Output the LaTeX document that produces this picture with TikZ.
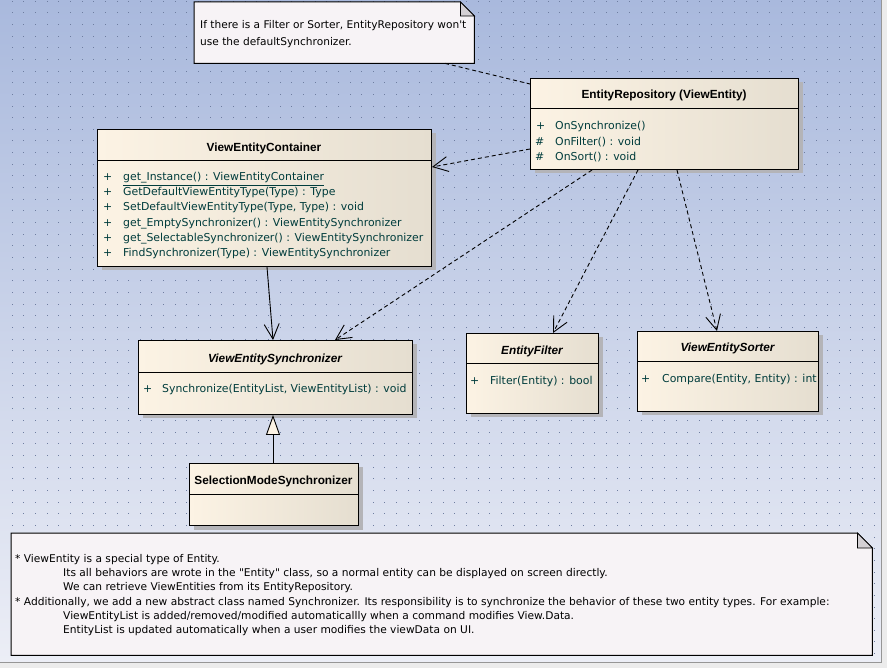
\documentclass[tikz,border=0pt]{standalone}
\usepackage{fontspec}
\setmainfont{Liberation Sans}
\newfontfamily\dejavu{DejaVu Sans}
\usetikzlibrary{arrows.meta,shadows,calc}
\definecolor{bgtop}{RGB}{169,185,221}
\definecolor{bgbot}{RGB}{236,238,246}
\definecolor{dotc}{RGB}{110,125,160}
\definecolor{creamL}{RGB}{252,243,228}
\definecolor{creamR}{RGB}{229,222,208}
\definecolor{shadowc}{RGB}{180,180,184}
\definecolor{notefill}{RGB}{247,243,246}
\definecolor{foldc}{RGB}{212,208,212}
\definecolor{membc}{RGB}{0,60,60}
\definecolor{framec}{RGB}{236,236,236}
\definecolor{framel}{RGB}{150,150,150}
\begin{document}
\begin{tikzpicture}[x=1pt,y=-1pt,
  classbox/.style={draw=black, line width=1pt, left color=creamL, right color=creamR, inner sep=0pt, anchor=north west,
    general shadow={fill=shadowc, shadow xshift=4pt, shadow yshift=-4pt}},
  notebox/.style={inner sep=0pt, anchor=north west},
  noteline/.style={draw=black, line width=1pt, fill=notefill},
  foldline/.style={draw=black, line width=0.8pt, fill=foldc},
  memb/.style={anchor=base west, inner sep=0pt, text=membc, font=\dejavu\fontsize{10.9}{13}\selectfont},
  ttl/.style={anchor=base, inner sep=0pt, font=\bfseries\fontsize{11.8}{13}\selectfont},
  ittl/.style={anchor=base, inner sep=0pt, font=\bfseries\itshape\fontsize{11.8}{13}\selectfont},
  notetxt/.style={anchor=base west, inner sep=0pt, font=\dejavu\fontsize{10.65}{13}\selectfont},
  sepline/.style={draw=black, line width=1pt},
  dep/.style={draw=black, line width=0.9pt, dash pattern=on 4pt off 3pt, -{Straight Barb[length=15pt,width=15pt]}},
  assoc/.style={draw=black, line width=0.9pt, -{Straight Barb[length=15pt,width=15pt]}},
  notelink/.style={draw=black, line width=0.9pt, dash pattern=on 4pt off 3pt},
  gen/.style={draw=black, line width=0.9pt, -{Triangle[length=20pt,width=14pt,fill=creamL]}}
]
\useasboundingbox (0,0) rectangle (887,668);
% frame and background
\fill[framec] (0,0) rectangle (887,668);
\shade[top color=bgtop, bottom color=bgbot] (0,0) rectangle (881,662);
\draw[framel, line width=1pt] (881.5,0) -- (881.5,662.5) -- (0,662.5);
\foreach \i in {1,...,75}{
  \foreach \j in {0,...,56}{
    \fill[dotc] (\i*11.65,\j*11.65+0.7) rectangle +(1,1);
  }
}

% ---------- classes ----------
\node[classbox, minimum width=268pt, minimum height=91pt] (ER) at (530,78) {};
\draw[sepline] (530,109) -- (798,109);
\node[ttl] (ERt) at (664,99) {EntityRepository (ViewEntity)};
\node[memb] (ERs1) at (536,130) {+};
\node[memb] (ERm1) at (555,130) {OnSynchronize()};
\node[memb] (ERs2) at (535,146) {\#};
\node[memb] (ERm2) at (555,146) {OnFilter() : void};
\node[memb] (ERs3) at (535,161) {\#};
\node[memb] (ERm3) at (555,161) {OnSort() : void};

\node[classbox, minimum width=334pt, minimum height=137pt] (VEC) at (97,129) {};
\draw[sepline] (97,161) -- (431,161);
\node[ttl] (VECt) at (264,152) {ViewEntityContainer};
\node[memb] (VECs1) at (103,181) {+};
\node[memb] (VECm1) at (123,181) {\underline{get\_Instance() : ViewEntityContainer}};
\node[memb] (VECs2) at (103,196) {+};
\node[memb] (VECm2) at (123,196) {GetDefaultViewEntityType(Type) : Type};
\node[memb] (VECs3) at (103,211) {+};
\node[memb] (VECm3) at (123,211) {SetDefaultViewEntityType(Type, Type) : void};
\node[memb] (VECs4) at (103,227) {+};
\node[memb] (VECm4) at (123,227) {get\_EmptySynchronizer() : ViewEntitySynchronizer};
\node[memb] (VECs5) at (103,242) {+};
\node[memb] (VECm5) at (123,242) {get\_SelectableSynchronizer() : ViewEntitySynchronizer};
\node[memb] (VECs6) at (103,257) {+};
\node[memb] (VECm6) at (123,257) {FindSynchronizer(Type) : ViewEntitySynchronizer};

\node[classbox, minimum width=274pt, minimum height=74pt] (VES) at (138,340) {};
\draw[sepline] (138,373) -- (412,373);
\node[ittl] (VESt) at (275,363) {ViewEntitySynchronizer};
\node[memb] (VESs1) at (143,393) {+};
\node[memb] (VESm1) at (162,393) {Synchronize(EntityList, ViewEntityList) : void};

\node[classbox, minimum width=169pt, minimum height=62pt] (SMS) at (189,463) {};
\draw[sepline] (189,494) -- (358,494);
\node[ttl] (SMSt) at (273.5,485) {SelectionModeSynchronizer};

\node[classbox, minimum width=132pt, minimum height=80pt] (EF) at (466,333) {};
\draw[sepline] (466,364) -- (598,364);
\node[ittl] (EFt) at (532,355) {EntityFilter};
\node[memb] (EFs1) at (470,385) {+};
\node[memb] (EFm1) at (490,385) {Filter(Entity) : bool};

\node[classbox, minimum width=181pt, minimum height=80pt] (VSO) at (637,331) {};
\draw[sepline] (637,362) -- (818,362);
\node[ittl] (VSOt) at (727.5,352) {ViewEntitySorter};
\node[memb] (VSOs1) at (641,383) {+};
\node[memb] (VSOm1) at (662,383) {Compare(Entity, Entity) : int};

% ---------- notes ----------
\node[notebox, minimum width=280pt, minimum height=61pt] (N1) at (194,2) {};
\draw[noteline] (N1.north west) -- ($(N1.north east)+(-14,0)$) -- ($(N1.north east)+(0,14)$) -- (N1.south east) -- (N1.south west) -- cycle;
\draw[foldline] ($(N1.north east)+(-14,0)$) -- ($(N1.north east)+(-14,14)$) -- ($(N1.north east)+(0,14)$) -- cycle;
\node[notetxt, font=\dejavu\fontsize{10.6}{13}\selectfont] (N1a) at (200,29) {If there is a Filter or Sorter, EntityRepository won't};
\node[notetxt, font=\dejavu\fontsize{10.6}{13}\selectfont] (N1b) at (200,46) {use the defaultSynchronizer.};

\node[notebox, minimum width=861pt, minimum height=122pt] (N2) at (11,533) {};
\draw[noteline] (N2.north west) -- ($(N2.north east)+(-15,0)$) -- ($(N2.north east)+(0,15)$) -- (N2.south east) -- (N2.south west) -- cycle;
\draw[foldline] ($(N2.north east)+(-15,0)$) -- ($(N2.north east)+(-15,15)$) -- ($(N2.north east)+(0,15)$) -- cycle;
\node[notetxt] (N2a) at (15,562) {* ViewEntity is a special type of Entity.};
\node[notetxt] (N2b) at (63,576) {Its all behaviors are wrote in the "Entity" class, so a normal entity can be displayed on screen directly.};
\node[notetxt] (N2c) at (63,590) {We can retrieve ViewEntities from its EntityRepository.};
\node[notetxt] (N2d) at (15,605) {* Additionally, we add a new abstract class named Synchronizer. Its responsibility is to synchronize the behavior of these two entity types. For example:};
\node[notetxt] (N2e) at (63,619) {ViewEntityList is added/removed/modified automaticallly when a command modifies View.Data.};
\node[notetxt] (N2f) at (63,633) {EntityList is updated automatically when a user modifies the viewData on UI.};

% ---------- connectors ----------
\draw[notelink] (N1.south -| 445,0) -- (ER.west |- 0,84);
\draw[dep] (ER.west |- 0,149) -- (VEC.east |- 0,167);
\draw[dep] (ER.south -| 592,0) -- (VES.north -| 335,0);
\draw[dep] (ER.south -| 638,0) -- (EF.north -| 553,0);
\draw[dep] (ER.south -| 677,0) -- (VSO.north -| 717,0);
\draw[assoc] (VEC.south -| 267,0) -- (VES.north -| 273,0);
\draw[gen] (SMS.north -| 273,0) -- (VES.south -| 273,0);
\end{tikzpicture}
\end{document}
